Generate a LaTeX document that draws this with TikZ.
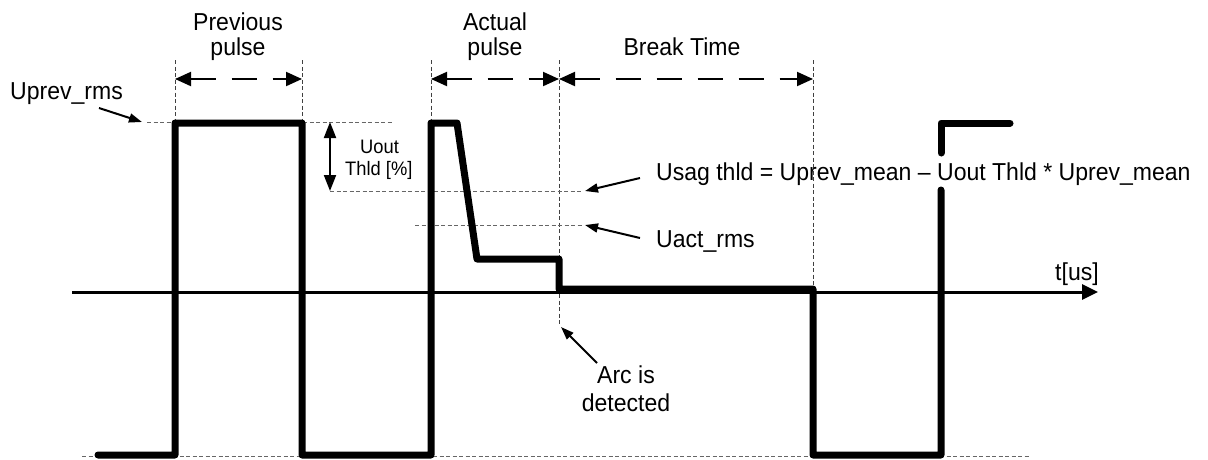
\documentclass[tikz,border=0pt]{standalone}
\usepackage{fontspec}
\setmainfont{Liberation Sans}
\usetikzlibrary{arrows.meta}
\begin{document}
\begin{tikzpicture}[x=1pt,y=-1pt,
  wave/.style={line width=7pt, line cap=round, line join=round},
  guide/.style={line width=1pt, dash pattern=on 4pt off 2.5pt, black!75},
  hguide/.style={line width=1pt, dash pattern=on 4pt off 2.5pt, black!60},
  span/.style={line width=2pt, dash pattern=on 25pt off 16pt, {Triangle[length=16pt,width=14pt]}-{Triangle[length=16pt,width=14pt]}},
  dimarrow/.style={line width=2pt, {Triangle[length=16pt,width=12pt]}-{Triangle[length=16pt,width=12pt]}},
  pointer/.style={line width=2pt, -{Triangle[length=13pt,width=9pt]}},
  axisline/.style={line width=3pt, -{Triangle[length=16pt,width=15pt]}},
  lbl/.style={font=\fontsize{24.5}{25}\selectfont, xscale=0.94, inner sep=0pt, anchor=base},
  lblw/.style={font=\fontsize{24.5}{25}\selectfont, xscale=0.94, inner sep=0pt, anchor=base west},
  small/.style={font=\fontsize{19.5}{22}\selectfont, xscale=0.94, inner sep=0pt, anchor=base west},
]
\useasboundingbox (0,0) rectangle (1208,459);

% guides
\draw[guide] (175,60) -- (175,122);
\draw[guide] (302,60) -- (302,122);
\draw[guide] (431,60) -- (431,122);
\draw[guide] (559,60) -- (559,325);
\draw[guide] (813,60) -- (813,289);
\draw[hguide] (147,122) -- (393,122);
\draw[hguide] (330,191) -- (582,191);
\draw[hguide] (415,225) -- (582,225);
\draw[hguide] (82,456) -- (1030,456);

% axis
\coordinate (ax0) at (72,292);
\coordinate (ax1) at (1098,292);
\draw[axisline] (ax0) -- (ax1);
\node[lblw] (tus) at (1055,280) {t[us]};

% waveform
\draw[wave] (98,455) -- (175,455) -- (175,123) -- (302,123) -- (302,455)
  -- (431,455) -- (431,123) -- (457,123) -- (477,259) -- (559,259)
  -- (559,289) -- (813,289) -- (813,455) -- (941,455) -- (941,190);
\draw[wave] (941,153) -- (941,123) -- (1010,123);

% spans
\coordinate (p0) at (175,79);
\coordinate (p1) at (302,79);
\coordinate (a0) at (431,79);
\coordinate (a1) at (559,79);
\coordinate (b1) at (813,79);
\draw[span] (p0) -- (p1);
\draw[span] (a0) -- (a1);
\draw[span] (a1) -- (b1);
\node[lbl] (prev1) at (238,30) {Previous};
\node[lbl] (prev2) at (238,55) {pulse};
\node[lbl] (act1) at (495,30) {Actual};
\node[lbl] (act2) at (495,55) {pulse};
\node[lbl] (brk) at (682,55) {Break Time};

% Uout threshold
\coordinate (u0) at (330,122);
\coordinate (u1) at (330,191);
\draw[dimarrow] (u0) -- (u1);
\node[small] (uout1) at (360,153) {Uout};
\node[small] (uout2) at (345,175) {Thld [\%]};

% labels and pointers
\node[lblw] (uprev) at (10,99) {Uprev\_rms};
\coordinate (uprevT) at (99,108);
\coordinate (uprevH) at (142,122);
\draw[pointer] (uprevT) -- (uprevH);

\node[lblw] (usag) at (656,180) {Usag thld = Uprev\_mean – Uout Thld * Uprev\_mean};
\coordinate (usagT) at (640,178);
\coordinate (usagH) at (585,191);
\draw[pointer] (usagT) -- (usagH);

\node[lblw] (uact) at (656,247) {Uact\_rms};
\coordinate (uactT) at (640,238);
\coordinate (uactH) at (585,225);
\draw[pointer] (uactT) -- (uactH);

\node[lbl] (arc1) at (626,383) {Arc is};
\node[lbl] (arc2) at (626,411) {detected};
\coordinate (arcT) at (597,363);
\coordinate (arcH) at (561,327);
\draw[pointer] (arcT) -- (arcH);
\end{tikzpicture}
\end{document}
